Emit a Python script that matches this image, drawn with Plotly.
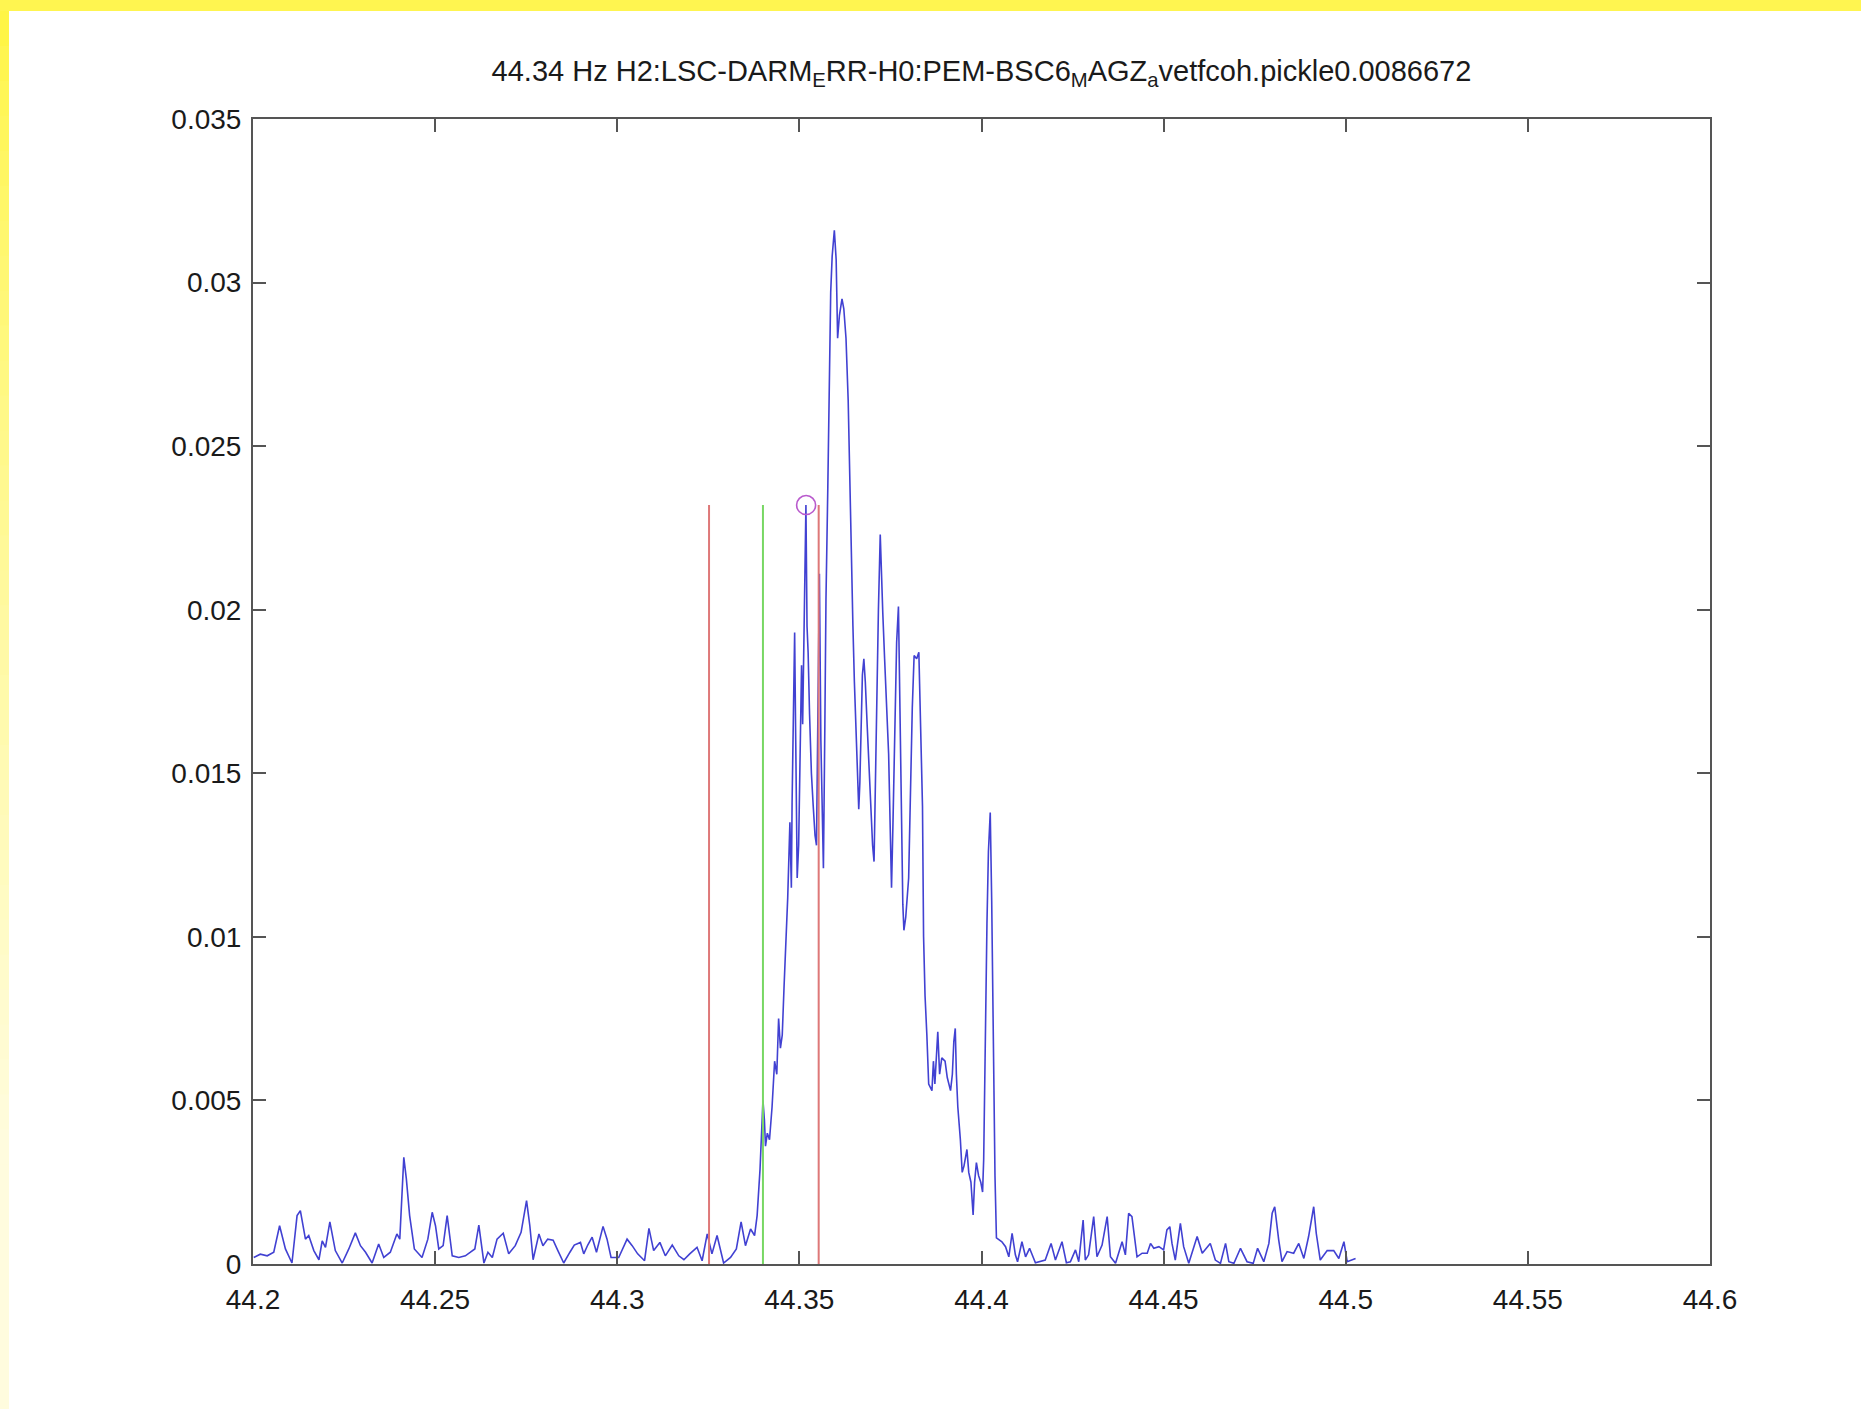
import plotly.graph_objects as go

# ---------------- data ----------------
freq = [
    44.2002, 44.2020, 44.2039, 44.2057, 44.2073, 44.2089, 44.2107, 44.2121, 44.2130, 44.2144,
    44.2153, 44.2167, 44.2181, 44.2190, 44.2199, 44.2211, 44.2226, 44.2245, 44.2263, 44.2281,
    44.2295, 44.2309, 44.2327, 44.2345, 44.2359, 44.2377, 44.2395, 44.2403, 44.2414, 44.2421,
    44.2430, 44.2443, 44.2464, 44.2480, 44.2492, 44.2501, 44.2510, 44.2522, 44.2533, 44.2547,
    44.2565, 44.2583, 44.2597, 44.2609, 44.2620, 44.2634, 44.2645, 44.2657, 44.2670, 44.2687,
    44.2702, 44.2720, 44.2736, 44.2751, 44.2760, 44.2769, 44.2785, 44.2796, 44.2809, 44.2824,
    44.2837, 44.2853, 44.2870, 44.2882, 44.2899, 44.2908, 44.2919, 44.2931, 44.2943, 44.2961,
    44.2972, 44.2983, 44.3004, 44.3027, 44.3041, 44.3056, 44.3075, 44.3087, 44.3100, 44.3117,
    44.3132, 44.3151, 44.3169, 44.3183, 44.3199, 44.3219, 44.3233, 44.3247, 44.3260, 44.3274,
    44.3292, 44.3311, 44.3327, 44.3340, 44.3352, 44.3366, 44.3377, 44.3384, 44.3392,
    # rise and main feature
    44.3397, 44.3400, 44.3404, 44.3407, 44.3412, 44.3418, 44.3425, 44.3432, 44.3438, 44.3443,
    44.3448, 44.3453, 44.3458, 44.3463, 44.3468, 44.3474, 44.3478, 44.3480, 44.3484, 44.3487,
    44.3490, 44.3494, 44.3498, 44.3502, 44.3506, 44.3509, 44.3512, 44.3515, 44.3518, 44.3521,
    44.3524, 44.3528, 44.3533, 44.3538, 44.3543, 44.3547, 44.3551, 44.3555, 44.3559, 44.3563,
    44.3566, 44.3570, 44.3573, 44.3578, 44.3583, 44.3586, 44.3590, 44.3596, 44.3601, 44.3605,
    44.3610, 44.3617, 44.3622, 44.3628, 44.3634, 44.3640, 44.3643, 44.3647, 44.3651, 44.3656,
    44.3660, 44.3663, 44.3666, 44.3669, 44.3673, 44.3677, 44.3681, 44.3686, 44.3691, 44.3696,
    44.3701, 44.3705, 44.3709, 44.3713, 44.3717, 44.3722, 44.3725, 44.3729, 44.3734, 44.3740,
    44.3745, 44.3750, 44.3753, 44.3757, 44.3762, 44.3767, 44.3772, 44.3776, 44.3780, 44.3784,
    44.3787, 44.3792, 44.3800, 44.3806, 44.3810, 44.3815, 44.3822, 44.3828, 44.3833, 44.3838,
    44.3841, 44.3845, 44.3850, 44.3855, 44.3864, 44.3868, 44.3872, 44.3880, 44.3885, 44.3891,
    44.3900, 44.3906, 44.3915, 44.3920, 44.3924, 44.3928, 44.3931, 44.3935, 44.3942, 44.3947,
    44.3952, 44.3960, 44.3965, 44.3971, 44.3977, 44.3981, 44.3986, 44.3992, 44.3998, 44.4003,
    44.4006, 44.4011, 44.4015, 44.4019, 44.4024, 44.4028, 44.4033, 44.4037, 44.4041,
    # tail
    44.4056, 44.4066, 44.4075, 44.4084, 44.4093, 44.4099, 44.4111, 44.4121, 44.4132, 44.4148,
    44.4162, 44.4175, 44.4191, 44.4203, 44.4221, 44.4233, 44.4244, 44.4258, 44.4267, 44.4279,
    44.4285, 44.4294, 44.4308, 44.4317, 44.4331, 44.4345, 44.4354, 44.4368, 44.4386, 44.4395,
    44.4404, 44.4413, 44.4427, 44.4441, 44.4455, 44.4464, 44.4473, 44.4487, 44.4500, 44.4509,
    44.4517, 44.4523, 44.4532, 44.4546, 44.4555, 44.4569, 44.4592, 44.4606, 44.4628, 44.4642,
    44.4656, 44.4670, 44.4679, 44.4693, 44.4711, 44.4729, 44.4746, 44.4758, 44.4775, 44.4789,
    44.4798, 44.4805, 44.4816, 44.4825, 44.4839, 44.4857, 44.4871, 44.4885, 44.4898, 44.4912,
    44.4919, 44.4930, 44.4949, 44.4967, 44.4981, 44.4995, 44.5004, 44.5017, 44.5027,
]

coherence = [
    0.00020, 0.00030, 0.00025, 0.00036, 0.00117, 0.00046, 0.00003, 0.00148, 0.00163, 0.00076,
    0.00087, 0.00041, 0.00013, 0.00071, 0.00051, 0.00129, 0.00041, 0.00003, 0.00046, 0.00095,
    0.00056, 0.00036, 0.00003, 0.00061, 0.00020, 0.00036, 0.00092, 0.00076, 0.00326, 0.00260,
    0.00148, 0.00046, 0.00020, 0.00076, 0.00158, 0.00117, 0.00046, 0.00056, 0.00148, 0.00025,
    0.00020, 0.00025, 0.00036, 0.00046, 0.00119, 0.00003, 0.00036, 0.00020, 0.00076, 0.00094,
    0.00031, 0.00056, 0.00097, 0.00194, 0.00117, 0.00013, 0.00092, 0.00056, 0.00076, 0.00073,
    0.00041, 0.00003, 0.00036, 0.00058, 0.00066, 0.00031, 0.00058, 0.00082, 0.00036, 0.00115,
    0.00076, 0.00020, 0.00020, 0.00076, 0.00056, 0.00031, 0.00010, 0.00109, 0.00041, 0.00066,
    0.00025, 0.00058, 0.00025, 0.00013, 0.00031, 0.00051, 0.00010, 0.00092, 0.00031, 0.00087,
    0.00003, 0.00020, 0.00046, 0.00129, 0.00056, 0.00107, 0.00087, 0.00148, 0.00290,
    # rise and main feature
    0.00450, 0.00500, 0.00440, 0.00360, 0.00400, 0.00380, 0.00480, 0.00620, 0.00580, 0.00750,
    0.00660, 0.00700, 0.00850, 0.00980, 0.01120, 0.01350, 0.01150, 0.01410, 0.01740, 0.01930,
    0.01600, 0.01180, 0.01280, 0.01500, 0.01830, 0.01650, 0.01900, 0.02170, 0.02320, 0.01950,
    0.01870, 0.01680, 0.01500, 0.01400, 0.01310, 0.01280, 0.01700, 0.02110, 0.01600, 0.01380,
    0.01210, 0.01650, 0.02030, 0.02370, 0.02730, 0.02970, 0.03080, 0.03160, 0.03070, 0.02830,
    0.02900, 0.02950, 0.02920, 0.02830, 0.02640, 0.02300, 0.02100, 0.01950, 0.01780, 0.01630,
    0.01500, 0.01390, 0.01470, 0.01660, 0.01800, 0.01850, 0.01780, 0.01650, 0.01520, 0.01400,
    0.01280, 0.01230, 0.01500, 0.01810, 0.02000, 0.02230, 0.02150, 0.01990, 0.01850, 0.01700,
    0.01560, 0.01300, 0.01150, 0.01350, 0.01650, 0.01900, 0.02010, 0.01650, 0.01350, 0.01100,
    0.01020, 0.01060, 0.01180, 0.01500, 0.01700, 0.01860, 0.01850, 0.01870, 0.01650, 0.01400,
    0.01000, 0.00820, 0.00700, 0.00550, 0.00530, 0.00620, 0.00550, 0.00710, 0.00580, 0.00630,
    0.00620, 0.00570, 0.00530, 0.00580, 0.00680, 0.00720, 0.00580, 0.00480, 0.00380, 0.00280,
    0.00300, 0.00350, 0.00280, 0.00250, 0.00150, 0.00250, 0.00310, 0.00270, 0.00250, 0.00220,
    0.00320, 0.00820, 0.01040, 0.01260, 0.01380, 0.01110, 0.00590, 0.00270, 0.00080,
    # tail
    0.00068, 0.00053, 0.00022, 0.00094, 0.00028, 0.00007, 0.00068, 0.00022, 0.00048, 0.00004,
    0.00007, 0.00012, 0.00063, 0.00012, 0.00068, 0.00004, 0.00007, 0.00043, 0.00007, 0.00134,
    0.00012, 0.00028, 0.00145, 0.00022, 0.00058, 0.00145, 0.00022, 0.00002, 0.00068, 0.00028,
    0.00155, 0.00145, 0.00022, 0.00033, 0.00033, 0.00063, 0.00048, 0.00053, 0.00043, 0.00104,
    0.00114, 0.00063, 0.00012, 0.00124, 0.00053, 0.00002, 0.00084, 0.00033, 0.00063, 0.00012,
    0.00002, 0.00063, 0.00007, 0.00002, 0.00048, 0.00007, 0.00002, 0.00048, 0.00007, 0.00063,
    0.00155, 0.00175, 0.00073, 0.00007, 0.00038, 0.00033, 0.00063, 0.00017, 0.00084, 0.00175,
    0.00094, 0.00012, 0.00041, 0.00041, 0.00017, 0.00068, 0.00007, 0.00012, 0.00017,
]

# vertical marker lines
red_lines = [44.3252, 44.3553]
green_lines = [44.3400]
line_height = 0.0232

# circled maximum
circle_freq = [44.35185]
circle_val = [0.0232]

x_tickvals = [44.2, 44.25, 44.3, 44.35, 44.4, 44.45, 44.5, 44.55, 44.6]
x_ticktext = ["44.2", "44.25", "44.3", "44.35", "44.4", "44.45", "44.5", "44.55", "44.6"]
y_tickvals = [0, 0.005, 0.01, 0.015, 0.02, 0.025, 0.03, 0.035]
y_ticktext = ["0", "0.005", "0.01", "0.015", "0.02", "0.025", "0.03", "0.035"]

title_text = ("44.34 Hz H2:LSC-DARM<sub>E</sub>RR-H0:PEM-BSC6<sub>M</sub>AGZ"
              "<sub>a</sub>vetfcoh.pickle0.0086672")

# ---------------- figure ----------------
W, H = 1861, 1409
ML, MR, MT, MB = 253, 151, 119, 145
PW, PH = W - ML - MR, H - MT - MB

fig = go.Figure()

fig.add_trace(go.Scatter(
    x=freq, y=coherence, mode="lines",
    line=dict(color="rgb(65,65,210)", width=1.6),
    hoverinfo="x+y", showlegend=False,
))

for f in red_lines:
    fig.add_trace(go.Scatter(
        x=[f, f], y=[0, line_height], mode="lines",
        line=dict(color="rgb(222,120,120)", width=2),
        showlegend=False, hoverinfo="skip",
    ))
for f in green_lines:
    fig.add_trace(go.Scatter(
        x=[f, f], y=[0, line_height], mode="lines",
        line=dict(color="rgb(120,215,100)", width=2),
        showlegend=False, hoverinfo="skip",
    ))

fig.add_trace(go.Scatter(
    x=circle_freq, y=circle_val, mode="markers",
    marker=dict(symbol="circle-open", size=19, color="rgb(185,90,205)",
                line=dict(width=1.6, color="rgb(185,90,205)")),
    showlegend=False, hoverinfo="x+y",
))

# ---------------- decorative yellow frame ----------------
def px_to_paper_x(px):
    return (px - ML) / PW

def py_to_paper_y(py):
    return (H - MB - py) / PH

shapes = []
shapes.append(dict(
    type="rect", xref="paper", yref="paper", layer="above",
    x0=px_to_paper_x(-5), x1=px_to_paper_x(W + 5),
    y0=py_to_paper_y(11), y1=py_to_paper_y(-5),
    fillcolor="rgb(255,245,80)", line=dict(width=0),
))
nseg = 40
top_c = (255, 245, 70)
bot_c = (255, 252, 222)
for i in range(nseg):
    t0 = i / nseg
    t1 = (i + 1) / nseg
    tt = min(1.0, (t0 * 1.25) ** 0.8)
    c = tuple(int(round(top_c[k] + (bot_c[k] - top_c[k]) * tt)) for k in range(3))
    y_top = 11 + (H - 11) * t0
    y_bot = 11 + (H - 11) * t1 + 1
    shapes.append(dict(
        type="rect", xref="paper", yref="paper", layer="above",
        x0=px_to_paper_x(-5), x1=px_to_paper_x(9),
        y0=py_to_paper_y(y_bot), y1=py_to_paper_y(y_top),
        fillcolor="rgb(%d,%d,%d)" % c, line=dict(width=0),
    ))

font_family = "Liberation Sans, Arial, Helvetica, sans-serif"
axis_font = dict(family=font_family, size=28, color="#1a1a1a")

fig.update_layout(
    width=W, height=H,
    margin=dict(l=ML, r=MR, t=MT, b=MB, pad=0),
    paper_bgcolor="white", plot_bgcolor="white",
    shapes=shapes,
    title=dict(
        text=title_text, x=(ML + PW / 2) / W, xanchor="center",
        y=1 - 71 / H, yanchor="middle",
        font=dict(family=font_family, size=29, color="#1a1a1a"),
    ),
    xaxis=dict(
        range=[44.2, 44.6], tickmode="array", tickvals=x_tickvals, ticktext=x_ticktext,
        showgrid=False, zeroline=False, showline=True, mirror="allticks",
        linecolor="#555", linewidth=2, ticks="inside", ticklen=13, tickwidth=1.5,
        tickcolor="#555", tickfont=axis_font, ticklabelstandoff=9,
    ),
    yaxis=dict(
        range=[0, 0.035], tickmode="array", tickvals=y_tickvals, ticktext=y_ticktext,
        showgrid=False, zeroline=False, showline=True, mirror="allticks",
        linecolor="#555", linewidth=2, ticks="inside", ticklen=13, tickwidth=1.5,
        tickcolor="#555", tickfont=axis_font, ticklabelstandoff=4,
    ),
)

fig.write_html("out.html")
